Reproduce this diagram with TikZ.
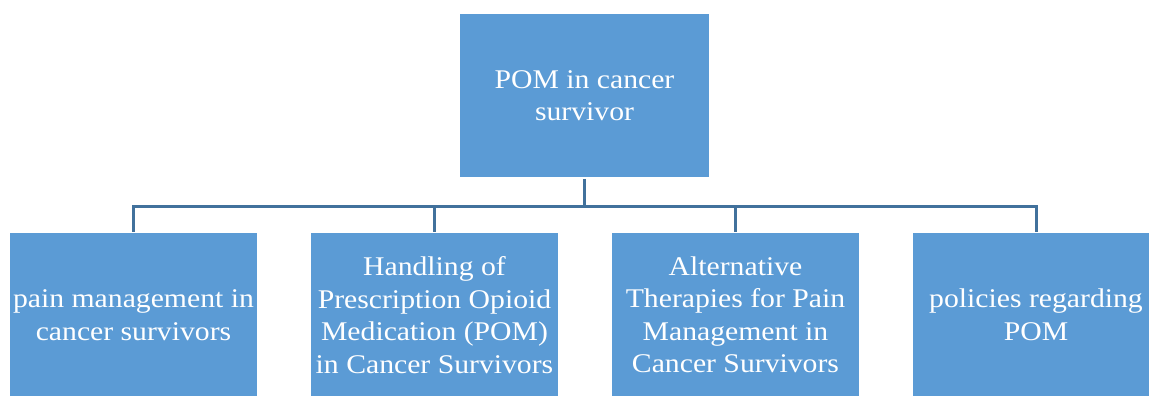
\documentclass[tikz,border=0pt]{standalone}
\usepackage{fontspec}
\setmainfont[FakeStretch=1.1]{Liberation Serif}
\definecolor{boxfill}{HTML}{5B9BD5}
\definecolor{linec}{HTML}{41719C}
\tikzset{
  x=1pt,y=1pt,
  topicbox/.style={rectangle, fill=boxfill, draw=white, line width=1.5pt,
    minimum width=248pt, minimum height=165pt, inner sep=0pt, align=center,
    text=white, font=\fontsize{27}{32.5}\selectfont},
  conn/.style={draw=linec, line width=3pt},
}
\begin{document}
\begin{tikzpicture}
\useasboundingbox (0,0) rectangle (1149,-396);
\fill[white] (0,0) rectangle (1149,-396);
\node[topicbox, minimum width=250pt] (top) at (584.5,-95.5) {POM in cancer\\survivor};
\node[topicbox] (b1) at (133.5,-315) {pain management in\\cancer survivors};
\node[topicbox] (b2) at (434.5,-315) {Handling of\\Prescription Opioid\\Medication (POM)\\in Cancer Survivors};
\node[topicbox] (b3) at (735.5,-315) {Alternative\\Therapies for Pain\\Management in\\Cancer Survivors};
\node[topicbox] (b4) at (1036,-315) {policies regarding\\POM};
\coordinate (hub) at (584.5,-206);
\draw[conn] (top.south) -- (hub);
\foreach \b in {b1,b2,b3,b4}{
  \draw[conn] (hub) -| (\b.north);
}
\end{tikzpicture}
\end{document}
